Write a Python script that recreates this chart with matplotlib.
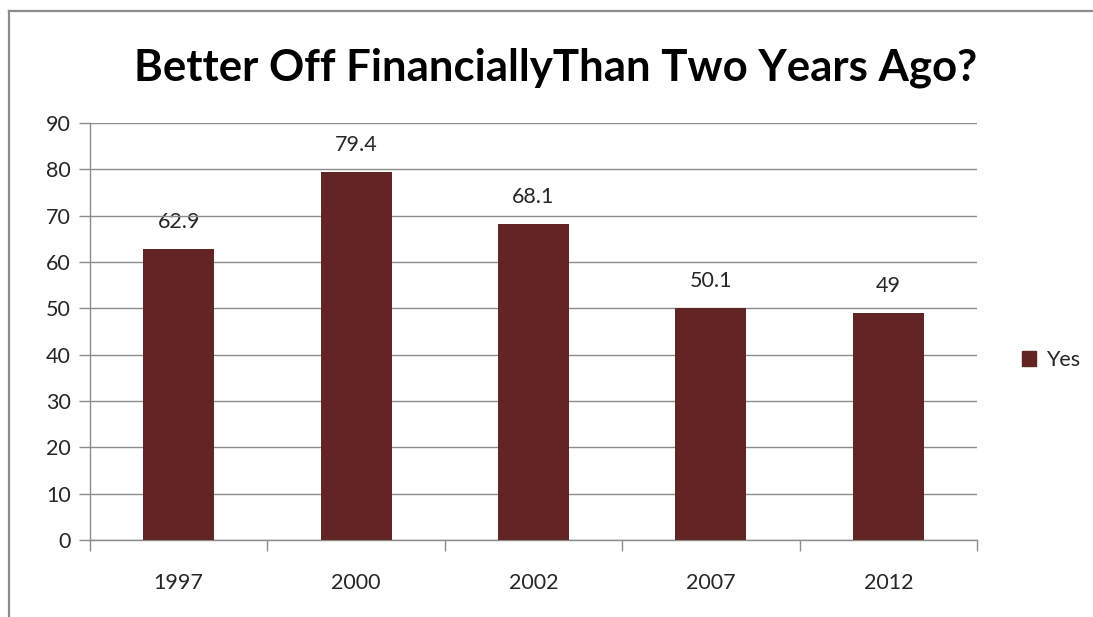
import numpy as np
import matplotlib
matplotlib.use("Agg")
from matplotlib import pyplot as plt
from matplotlib.lines import Line2D
from matplotlib.patches import Patch

years = ["1997", "2000", "2002", "2007", "2012"]
yes_values = [62.9, 79.4, 68.1, 50.1, 49]
series_name = "Yes"
title_text = "Better Off FinanciallyThan Two Years Ago?"

W, H = 1093, 617
bar_color = "#632523"
grid_color = "#8c8c8c"
text_color = "#262626"
fs = 15.5

plt.rcParams['font.family'] = ['Lato', 'DejaVu Sans']

fig = plt.figure(figsize=(W / 100, H / 100), dpi=100)
fig.patch.set_facecolor("white")

# plot area in pixel coordinates
left, right, top, bottom = 90, 977, 123, 540
ax = fig.add_axes([left / W, 1 - bottom / H, (right - left) / W, (bottom - top) / H])

x = np.arange(len(years))
bars = ax.bar(x, yes_values, width=0.4, color=bar_color, zorder=3)

for xi, v in zip(x, yes_values):
    ax.annotate(f"{v:g}", (xi, v), xytext=(0, 17), textcoords="offset pixels",
                ha="center", va="bottom", fontsize=fs, color=text_color, zorder=1)

ax.set_xlim(-0.5, len(years) - 0.5)
ax.set_ylim(0, 90)
ax.set_yticks(range(0, 91, 10))
ax.yaxis.grid(True, color=grid_color, linewidth=1.0, zorder=0)
ax.set_axisbelow(False)

ax.set_xticks(x)
ax.set_xticklabels(years)
ax.set_xticks(np.arange(-0.5, len(years)), minor=True)
ax.tick_params(axis="x", which="major", length=0, pad=24, labelsize=fs, colors=text_color)
ax.tick_params(axis="x", which="minor", length=8, direction="out", color=grid_color, width=1)
ax.tick_params(axis="y", length=8, direction="out", color=grid_color, width=1,
               labelsize=fs, colors=text_color, pad=6)

for side in ["top", "right"]:
    ax.spines[side].set_visible(False)
for side in ["left", "bottom"]:
    ax.spines[side].set_color(grid_color)
    ax.spines[side].set_linewidth(1)

fig.text(556 / W, 1 - 68 / H, title_text, ha="center", va="center",
         fontsize=31.5, fontweight="bold", color="black")

fig.legend(handles=[Patch(facecolor=bar_color, edgecolor=bar_color, label=series_name)],
           loc="center left", bbox_to_anchor=(1003 / W, 1 - 360 / H), frameon=False,
           fontsize=fs, handlelength=0.65, handleheight=0.65, handletextpad=0.45,
           labelcolor=text_color)

# chart border (left and top edges show)
fig.add_artist(Line2D([8.5 / W, 8.5 / W], [0, 1 - 11 / H], color="#8c8c8c", linewidth=1.6,
                      transform=fig.transFigure))
fig.add_artist(Line2D([8.5 / W, 1], [1 - 11 / H, 1 - 11 / H], color="#8c8c8c", linewidth=1.6,
                      transform=fig.transFigure))

fig.savefig("out.png", dpi=100, facecolor="white")
